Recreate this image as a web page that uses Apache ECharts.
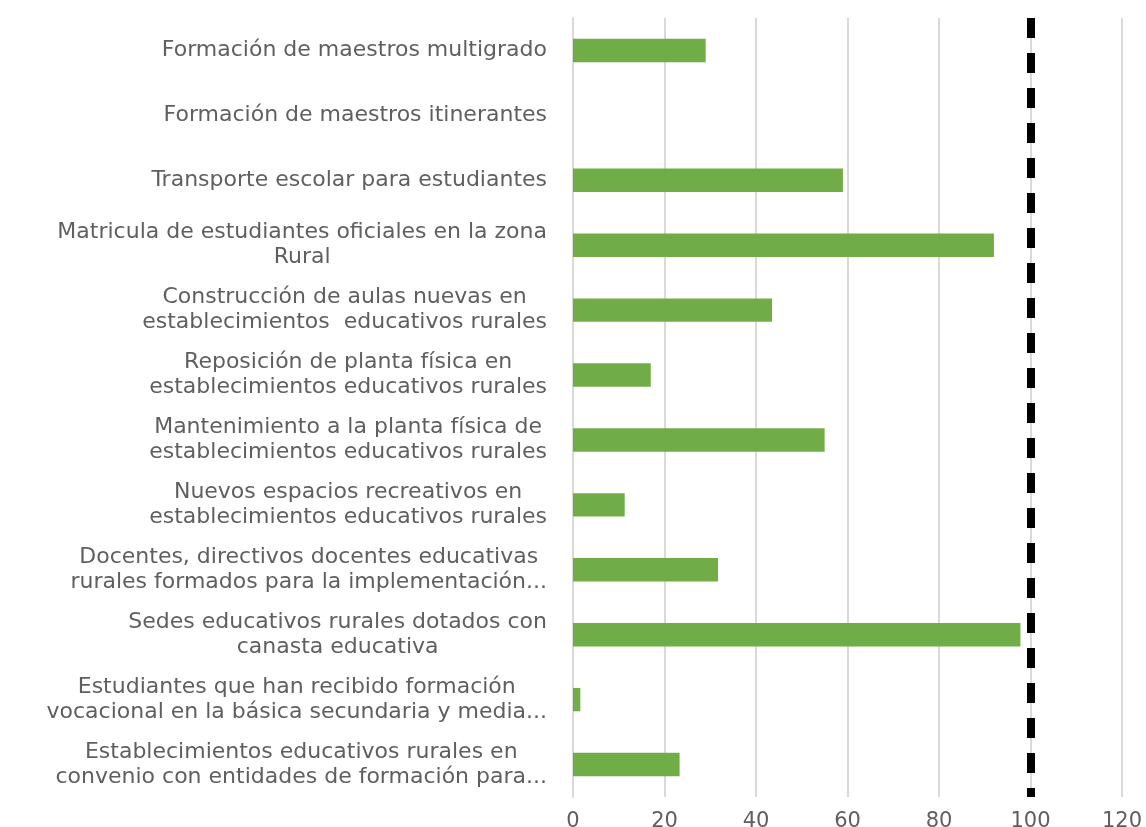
<!DOCTYPE html>
<html>
<head>
<meta charset="utf-8">
<title>Avance de indicadores</title>
<script src="https://cdn.jsdelivr.net/npm/echarts@6/dist/echarts.min.js"></script>
<style>
  html, body { margin: 0; padding: 0; background: #fff; }
  #main { width: 1146px; height: 827px; }
</style>
</head>
<body>
<div id="main"></div>
<script>
// categorias (de arriba hacia abajo), con el corte de linea que muestra la figura
var categorias = [
  'Formación de maestros multigrado',
  'Formación de maestros itinerantes',
  'Transporte escolar para estudiantes',
  'Matricula de estudiantes oficiales en la zona\nRural',
  'Construcción de aulas nuevas en\nestablecimientos  educativos rurales',
  'Reposición de planta física en\nestablecimientos educativos rurales',
  'Mantenimiento a la planta física de\nestablecimientos educativos rurales',
  'Nuevos espacios recreativos en\nestablecimientos educativos rurales',
  'Docentes, directivos docentes educativas\nrurales formados para la implementación...',
  'Sedes educativos rurales dotados con\ncanasta educativa',
  'Estudiantes que han recibido formación\nvocacional en la básica secundaria y media...',
  'Establecimientos educativos rurales en\nconvenio con entidades de formación para...'
];
var avance = [29, 0, 59, 92, 43.5, 17, 55, 11.3, 31.7, 97.8, 1.6, 23.3];
var meta = 100;
var ticksX = [0, 20, 40, 60, 80, 100, 120];

var gris = '#5f5f5f';
var chart = echarts.init(document.getElementById('main'));

var option = {
  animation: false,
  grid: { left: 573, right: 24, top: 18, bottom: 30, containLabel: false, outerBoundsMode: 'none' },
  xAxis: {
    type: 'value',
    min: ticksX[0],
    max: ticksX[ticksX.length - 1],
    interval: 20,
    axisLine: { show: false },
    axisTick: { show: false },
    axisLabel: { color: gris, fontSize: 21, fontFamily: 'DejaVu Sans', margin: 14 },
    splitLine: { lineStyle: { color: '#d9d9d9', width: 2 } }
  },
  yAxis: {
    type: 'category',
    inverse: true,
    data: categorias,
    axisLine: { show: true, lineStyle: { color: '#d9d9d9', width: 2 } },
    axisTick: { show: false },
    axisLabel: {
      margin: 26,
      formatter: function (v) {
        return v.split('\n').map(function (l) { return '{c|' + l + '}'; }).join('\n');
      },
      rich: {
        c: { align: 'center', color: gris, fontSize: 22, fontFamily: 'DejaVu Sans', lineHeight: 25 }
      }
    }
  },
  series: [{
    type: 'bar',
    data: avance,
    barWidth: '36%',
    itemStyle: { color: '#70ad47' },
    markLine: {
      silent: true,
      symbol: 'none',
      label: { show: false },
      lineStyle: { color: '#000', width: 8, type: [20, 15] },
      data: [{ xAxis: meta }]
    }
  }]
};
chart.setOption(option);
</script>
</body>
</html>
